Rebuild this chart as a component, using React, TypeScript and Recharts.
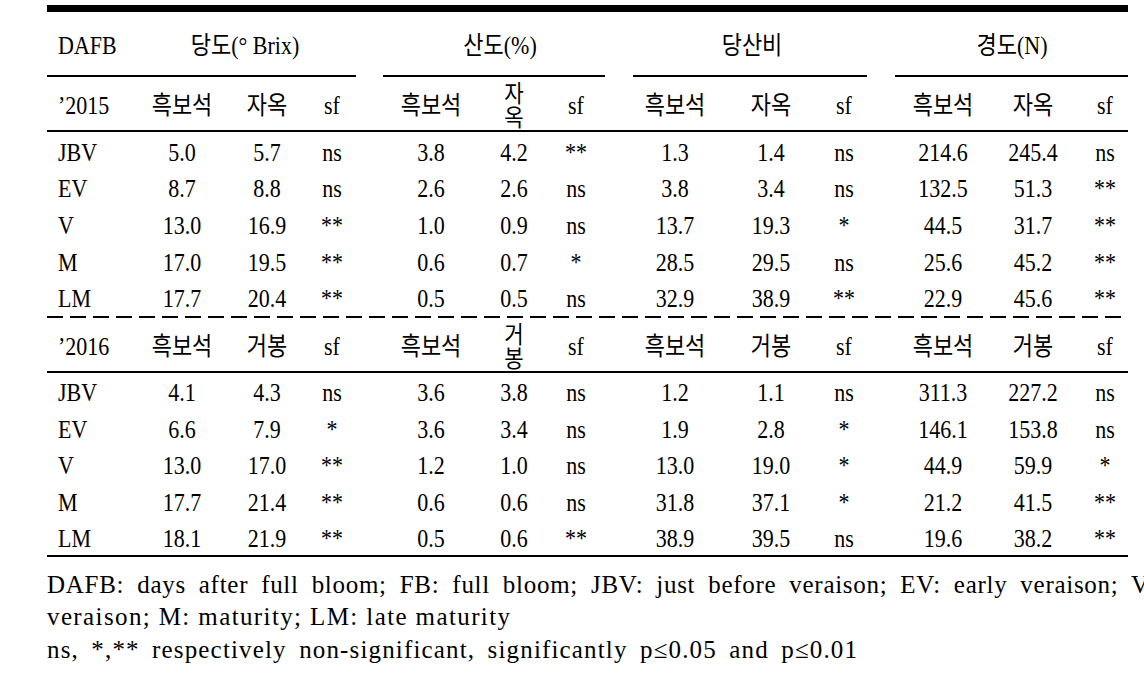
import { ScatterChart, Scatter, XAxis, YAxis, ReferenceLine } from 'recharts';

// ---- data ----
const stages = ['JBV', 'EV', 'V', 'M', 'LM'];
const traits = ['당도(° Brix)', '산도(%)', '당산비', '경도(N)'];
const cultivars2015 = ['흑보석', '자옥'];
const cultivars2016 = ['흑보석', '거봉'];

const brix2015Black = [5.0, 8.7, 13.0, 17.0, 17.7];
const brix2015Jaok = [5.7, 8.8, 16.9, 19.5, 20.4];
const brix2015Sf = ['ns', 'ns', '**', '**', '**'];
const acid2015Black = [3.8, 2.6, 1.0, 0.6, 0.5];
const acid2015Jaok = [4.2, 2.6, 0.9, 0.7, 0.5];
const acid2015Sf = ['**', 'ns', 'ns', '*', 'ns'];
const ratio2015Black = [1.3, 3.8, 13.7, 28.5, 32.9];
const ratio2015Jaok = [1.4, 3.4, 19.3, 29.5, 38.9];
const ratio2015Sf = ['ns', 'ns', '*', 'ns', '**'];
const firm2015Black = [214.6, 132.5, 44.5, 25.6, 22.9];
const firm2015Jaok = [245.4, 51.3, 31.7, 45.2, 45.6];
const firm2015Sf = ['ns', '**', '**', '**', '**'];

const brix2016Black = [4.1, 6.6, 13.0, 17.7, 18.1];
const brix2016Kyoho = [4.3, 7.9, 17.0, 21.4, 21.9];
const brix2016Sf = ['ns', '*', '**', '**', '**'];
const acid2016Black = [3.6, 3.6, 1.2, 0.6, 0.5];
const acid2016Kyoho = [3.8, 3.4, 1.0, 0.6, 0.6];
const acid2016Sf = ['ns', 'ns', 'ns', 'ns', '**'];
const ratio2016Black = [1.2, 1.9, 13.0, 31.8, 38.9];
const ratio2016Kyoho = [1.1, 2.8, 19.0, 37.1, 39.5];
const ratio2016Sf = ['ns', '*', '*', '*', 'ns'];
const firm2016Black = [311.3, 146.1, 44.9, 21.2, 19.6];
const firm2016Kyoho = [227.2, 153.8, 59.9, 41.5, 38.2];
const firm2016Sf = ['ns', 'ns', '*', '**', '**'];

const footnotes = [
  'DAFB: days after full bloom; FB: full bloom; JBV: just before veraison; EV: early veraison; V',
  'veraison; M: maturity; LM: late maturity',
  'ns, *,** respectively non-significant, significantly p≤0.05 and p≤0.01',
];

// ---- layout ----
const W = 1144;
const H = 682;
const LEFT = 47;
const RIGHT = 1128;
const LABEL_X = 58;
const COL_X = [182, 267, 332, 431, 514, 576, 675, 771, 844, 943, 1033, 1105];
const TRAIT_X = [245, 500, 752, 1012];
const HEAD_Y = 45;
const SUB15_Y = 105;
const BODY15_Y = [152, 188, 225, 262, 298];
const SUB16_Y = 346;
const BODY16_Y = [392, 429, 465, 502, 538];
const NOTE_Y = [585, 617, 650];
const NOTE_LEN = [1102, 463, 810];
const NOTE_WORD_GAP = [6, 0, 5];
const STACKED_COL = 4; // narrow column: cultivar name written top-to-bottom

const FONT = '"Liberation Serif", "Noto Sans CJK KR", serif';

type Cell = {
  x: number; y: number; text: string; anchor: 'start' | 'middle';
  stack?: boolean; fit?: number; gap?: number;
};

const fmt = (v: number) => v.toFixed(1);

function yearBlock(subY: number, bodyY: number[], year: string, names: string[], cols: (number[] | string[])[]): Cell[] {
  const cells: Cell[] = [{ x: LABEL_X, y: subY, text: year, anchor: 'start' }];
  traits.forEach((_, t) => {
    [names[0], names[1], 'sf'].forEach((h, k) => {
      const c = t * 3 + k;
      cells.push({ x: COL_X[c], y: subY, text: h, anchor: 'middle', stack: c === STACKED_COL });
    });
  });
  stages.forEach((s, r) => {
    cells.push({ x: LABEL_X, y: bodyY[r], text: s, anchor: 'start' });
    cols.forEach((col, c) => {
      const v = col[r];
      cells.push({ x: COL_X[c], y: bodyY[r], text: typeof v === 'number' ? fmt(v) : v, anchor: 'middle' });
    });
  });
  return cells;
}

const tableCells: Cell[] = [
  { x: LABEL_X, y: HEAD_Y, text: 'DAFB', anchor: 'start' },
  ...traits.map((t, i) => ({ x: TRAIT_X[i], y: HEAD_Y, text: t, anchor: 'middle' as const })),
  ...yearBlock(SUB15_Y, BODY15_Y, '’2015', cultivars2015, [
    brix2015Black, brix2015Jaok, brix2015Sf,
    acid2015Black, acid2015Jaok, acid2015Sf,
    ratio2015Black, ratio2015Jaok, ratio2015Sf,
    firm2015Black, firm2015Jaok, firm2015Sf,
  ]),
  ...yearBlock(SUB16_Y, BODY16_Y, '’2016', cultivars2016, [
    brix2016Black, brix2016Kyoho, brix2016Sf,
    acid2016Black, acid2016Kyoho, acid2016Sf,
    ratio2016Black, ratio2016Kyoho, ratio2016Sf,
    firm2016Black, firm2016Kyoho, firm2016Sf,
  ]),
];

const noteCells: Cell[] = footnotes.map((t, i) => ({
  x: LEFT, y: NOTE_Y[i], text: t, anchor: 'start', fit: NOTE_LEN[i], gap: NOTE_WORD_GAP[i],
}));

// rules under header, between blocks
const rules = [
  { x1: LEFT, x2: 356, y: 76 },
  { x1: 383, x2: 605, y: 76 },
  { x1: 633, x2: 867, y: 76 },
  { x1: 895, x2: RIGHT, y: 76 },
  { x1: LEFT, x2: RIGHT, y: 131 },
  { x1: LEFT, x2: RIGHT, y: 372 },
  { x1: LEFT, x2: RIGHT, y: 556 },
];

const TableText = (props: any) => {
  const { cx, cy, payload } = props;
  const sx = 0.88;
  if (payload.stack) {
    const chars = Array.from(payload.text as string);
    return (
      <g transform={`translate(${cx},${cy}) scale(${sx},1)`}>
        {chars.map((ch, i) => (
          <text key={i} x={0} y={(i - (chars.length - 1) / 2) * 24} dy="0.36em" textAnchor="middle"
            fontSize={24} fontFamily={FONT} fill="#000">{ch}</text>
        ))}
      </g>
    );
  }
  return (
    <text transform={`translate(${cx},${cy}) scale(${sx},1)`} x={0} y={0} dy="0.35em"
      textAnchor={payload.anchor} fontSize={25} fontFamily={FONT} fill="#000">
      {payload.text}
    </text>
  );
};

const NoteText = (props: any) => {
  const { cx, cy, payload } = props;
  return (
    <text x={cx} y={cy} dy="0.3em" textAnchor="start" fontSize={25} fontFamily={FONT} fill="#000"
      textLength={payload.fit} lengthAdjust="spacing" style={{ wordSpacing: payload.gap }}>
      {payload.text}
    </text>
  );
};

export default function App() {
  return (
    <div style={{ position: 'absolute', left: 0, top: 0, width: W, height: H, background: '#fff', overflow: 'hidden' }}>
      <ScatterChart width={W} height={H} margin={{ top: 0, right: 0, bottom: 0, left: 0 }}>
        <XAxis type="number" dataKey="x" domain={[0, W]} hide />
        <YAxis type="number" dataKey="y" domain={[0, H]} reversed hide />
        <ReferenceLine segment={[{ x: LEFT, y: 8.5 }, { x: RIGHT, y: 8.5 }]} stroke="#000" strokeWidth={7} />
        {rules.map((r, i) => (
          <ReferenceLine key={i} segment={[{ x: r.x1, y: r.y }, { x: r.x2, y: r.y }]} stroke="#000" strokeWidth={2} />
        ))}
        <ReferenceLine segment={[{ x: LEFT, y: 317 }, { x: RIGHT, y: 317 }]} stroke="#000" strokeWidth={2} strokeDasharray="16 7" />
        <Scatter data={tableCells} shape={<TableText />} isAnimationActive={false} />
        <Scatter data={noteCells} shape={<NoteText />} isAnimationActive={false} />
      </ScatterChart>
    </div>
  );
}
